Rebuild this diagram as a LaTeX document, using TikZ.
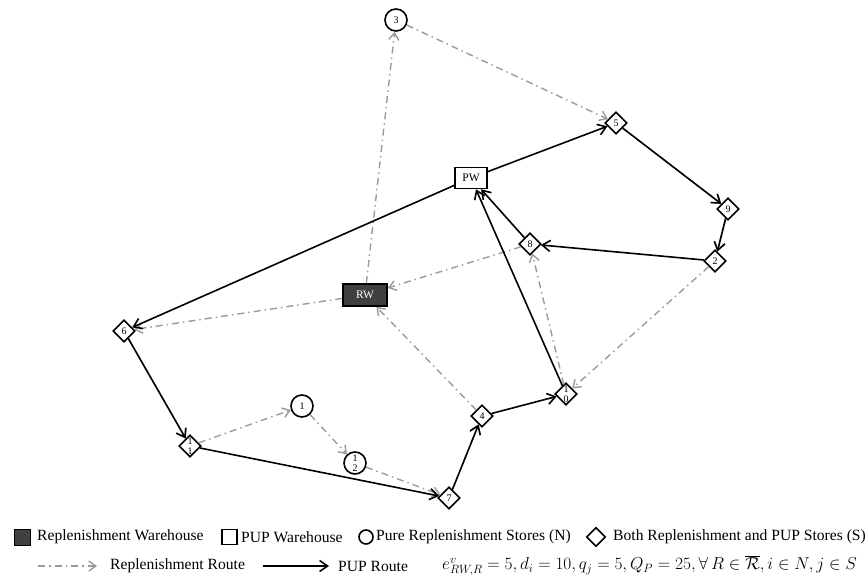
\documentclass[tikz,border=0pt]{standalone}
\usepackage{fontspec}
\setmainfont{Liberation Serif}
\usetikzlibrary{arrows.meta,shapes.geometric}
\definecolor{rgray}{RGB}{155,155,155}
\definecolor{rwfill}{RGB}{64,64,64}
\begin{document}
\begin{tikzpicture}[x=1pt,y=-1pt,
  store/.style={draw, line width=1.6pt, diamond, aspect=1, minimum size=22pt, inner sep=0pt, font=\fontsize{10}{10}\selectfont},
  pure/.style={draw, line width=1.6pt, circle, minimum size=22pt, inner sep=0pt, font=\fontsize{10}{10}\selectfont},
  lab/.style={inner sep=0pt, font=\fontsize{10}{9}\selectfont},
  wh/.style={draw, line width=1.6pt, rectangle, inner sep=0pt, font=\fontsize{11.5}{11.5}\selectfont},
  pup/.style={-{Straight Barb[length=8pt,width=11pt]}, line width=1.6pt, black},
  rep/.style={-{Straight Barb[length=7pt,width=10pt]}, line width=1.4pt, rgray, dash pattern=on 7pt off 4pt on 1.5pt off 4pt},
  legtext/.style={anchor=west, inner sep=0pt, font=\fontsize{15.6}{18}\selectfont},
]
\useasboundingbox (0,0) rectangle (867,575);

% warehouses
\node[wh, minimum width=32pt, minimum height=21pt] (PW) at (471,178) {PW};
\node[wh, fill=rwfill, text=white, minimum width=44pt, minimum height=22pt] (RW) at (365,295) {RW};

% pure stores
\node[pure] (n3) at (396,20) {3};
\node[pure] (n1) at (302,406) {1};
\node[pure] (n12) at (355,463) {};
\node[lab] (t12) at (n12) {\shortstack{1\\2}};

% both stores
\node[store] (n5) at (616,123) {5};
\node[store] (n9) at (728,209) {9};
\node[store] (n2) at (715,261) {2};
\node[store] (n8) at (530,244) {8};
\node[store] (n6) at (124,331) {6};
\node[store] (n11) at (190,446) {};
\node[lab] (t11) at (n11) {\shortstack{1\\1}};
\node[store] (n7) at (449,498) {7};
\node[store] (n4) at (482,416) {4};
\node[store] (n10) at (566,394) {};
\node[lab] (t10) at (n10) {\shortstack{1\\0}};

% replenishment route
\draw[rep] (RW) -- (n3);
\draw[rep] (n3) -- (n5);
\draw[rep] (n5) -- (n9);
\draw[rep] (n9) -- (n2);
\draw[rep] (n2) -- (n10);
\draw[rep] (n10) -- (n8);
\draw[rep] (n8) -- (RW);
\draw[rep] (RW) -- (n6);
\draw[rep] (n6) -- (n11);
\draw[rep] (n11) -- (n1);
\draw[rep] (n1) -- (n12);
\draw[rep] (n12) -- (n7);
\draw[rep] (n7) -- (n4);
\draw[rep] (n4) -- (RW);

% PUP route
\draw[pup] (PW) -- (n5);
\draw[pup] (n5) -- (n9);
\draw[pup] (n9) -- (n2);
\draw[pup] (n2) -- (n8);
\draw[pup] (n8) -- (PW);
\draw[pup] (PW) -- (n6);
\draw[pup] (n6) -- (n11);
\draw[pup] (n11) -- (n7);
\draw[pup] (n7) -- (n4);
\draw[pup] (n4) -- (n10);
\draw[pup] (n10) -- (PW);

% legend row 1
\node[draw, line width=1pt, fill=rwfill, minimum size=16pt, inner sep=0pt] (lg1) at (22,537) {};
\node[legtext] (lt1) at (37,537) {Replenishment Warehouse};
\node[draw, line width=1.2pt, minimum size=15pt, inner sep=0pt] (lg2) at (229.5,537) {};
\node[legtext] (lt2) at (241,537) {PUP Warehouse};
\node[draw, line width=1.6pt, circle, minimum size=14pt, inner sep=0pt] (lg3) at (366,537) {};
\node[legtext] (lt3) at (376,537) {Pure Replenishment Stores (N)};
\node[draw, line width=1.6pt, diamond, aspect=1, minimum size=19pt, inner sep=0pt] (lg4) at (596,537) {};
\node[legtext] (lt4) at (613,537) {Both Replenishment and PUP Stores (S)};

% legend row 2
\coordinate (la1) at (38,566);
\coordinate (la2) at (97,566);
\draw[rep] (la1) -- (la2);
\node[legtext] (lt5) at (110,566) {Replenishment Route};
\coordinate (lb1) at (263,566);
\coordinate (lb2) at (329,566);
\draw[pup] (lb1) -- (lb2);
\node[legtext] (lt6) at (338,566) {PUP Route};
\node[legtext, font=\fontsize{16.5}{18}\selectfont] (lt7) at (442,566) {$e^{v}_{RW,R}=5, d_i=10, q_j=5, Q_P=25, \forall\, R\in\overline{\mathcal{R}}, i\in N, j\in S$};
\end{tikzpicture}
\end{document}
